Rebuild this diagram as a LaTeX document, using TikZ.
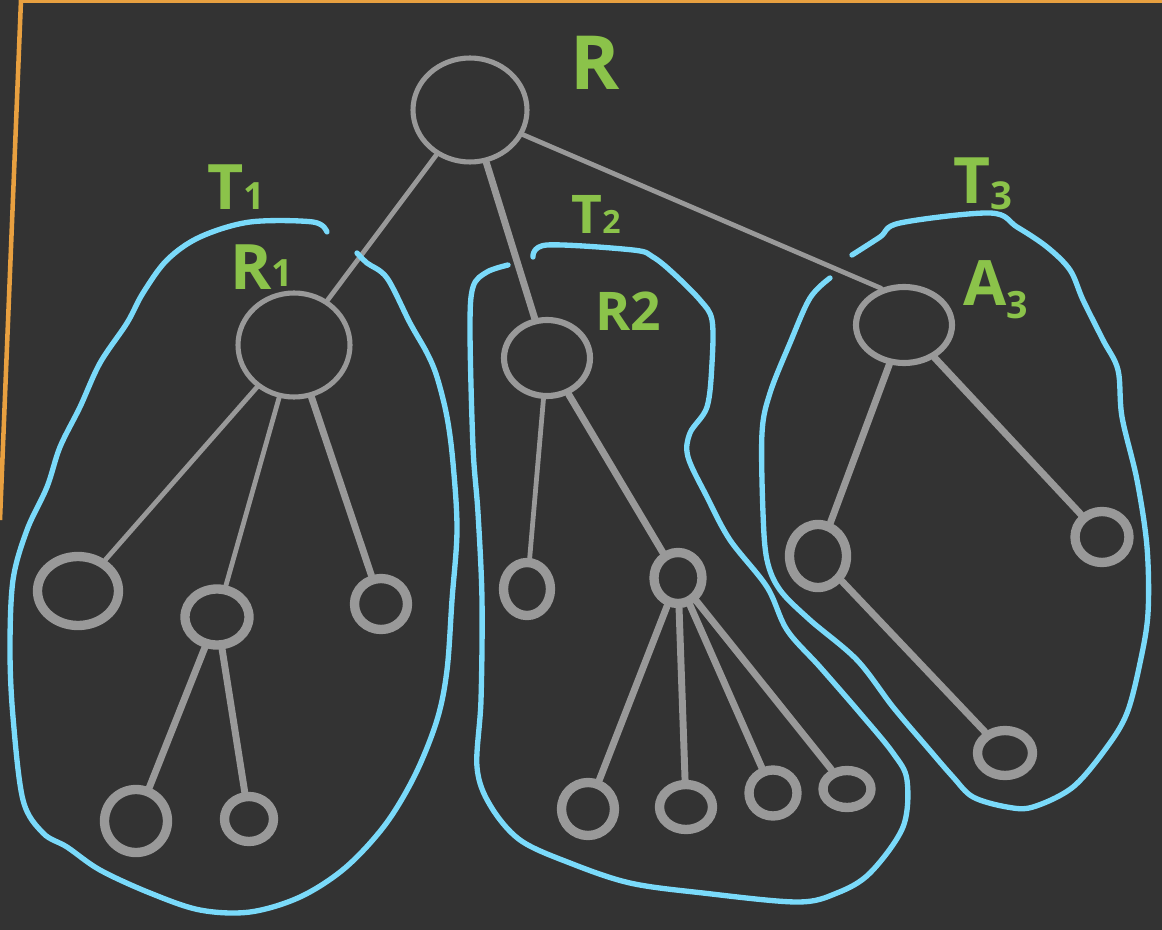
\documentclass[tikz,border=0pt]{standalone}
\usepackage{fontspec}
\setmainfont{Open Sans}
\usepackage{graphicx}
\usetikzlibrary{shapes.geometric}

\definecolor{board}{RGB}{51,51,51}
\definecolor{chalkgrey}{RGB}{153,153,153}
\definecolor{chalkblue}{RGB}{122,218,250}
\definecolor{chalkgreen}{RGB}{139,195,74}
\definecolor{frameorange}{RGB}{232,160,64}

\newcommand{\idx}[2][0pt]{\raisebox{#1}{\scalebox{0.6}{#2}}}

\tikzset{
  sz/.style 2 args={minimum width=#1*0.75pt, minimum height=#2*0.75pt},
  bignode/.style={ellipse, draw=chalkgrey, line width=3.8pt, inner sep=0pt},
  leaf/.style={ellipse, draw=chalkgrey, line width=7pt, inner sep=0pt},
  twig/.style={draw=chalkgrey, line width=3.6pt, line cap=round},
  stem/.style={draw=chalkgrey, line width=5.2pt, line cap=round},
  hull/.style={draw=chalkblue, line width=4pt, line cap=round, line join=round},
  tag/.style={text=chalkgreen, inner sep=0pt}
}

\begin{document}
\begin{tikzpicture}[x=0.75pt,y=0.75pt,yscale=-1,xscale=1]
\useasboundingbox (0,0) rectangle (1162,930);
\fill[board] (0,0) rectangle (1162,930);
%frame
\draw[frameorange, line width=2.6pt] (20,1) -- (1162,1);
\draw[frameorange, line width=3.4pt] (21,0) -- (0,520);

%Shape: Ellipse (root)
\node[bignode, sz={114}{104}] (r) at (470,110) {};
%Shape: Ellipse (subtree roots)
\node[bignode, sz={112}{104}] (r1) at (294,345) {};
\node[bignode, line width=4.6pt, sz={86}{76}] (r2) at (547,358) {};
\node[bignode, line width=4.6pt, sz={96}{76}] (a3) at (904,325) {};
%Shape: Ellipse (T1)
\node[leaf, sz={81}{69}] (l1) at (78,591) {};
\node[leaf, sz={64}{56}] (l2) at (217,617) {};
\node[leaf, sz={53}{51}] (l3) at (381,604) {};
\node[leaf, sz={63}{63}] (l4) at (136,821) {};
\node[leaf, sz={49}{45}] (l5) at (249,819) {};
%Shape: Ellipse (T2)
\node[leaf, sz={47}{53}] (m1) at (527,589) {};
\node[leaf, sz={48}{51}] (m2) at (678,578) {};
\node[leaf, sz={53}{53}] (m3) at (588,809) {};
\node[leaf, sz={53}{45}] (m4) at (686,807) {};
\node[leaf, sz={48}{46}] (m5) at (773,793) {};
\node[leaf, sz={48}{37}] (m6) at (847,789) {};
%Shape: Ellipse (T3)
\node[leaf, sz={57}{63}] (n1) at (818,556) {};
\node[leaf, sz={54}{51}] (n2) at (1102,537) {};
\node[leaf, sz={55}{45}] (n3) at (1005,753) {};

%Straight Lines
\draw[twig] (r) -- (r1);
\draw[stem] (r) -- (r2);
\draw[twig] (r.-25) -- (a3.122);
\draw[twig] (r1) -- (l1);
\draw[twig] (r1) -- (l2);
\draw[stem] (r1) -- (l3);
\draw[stem] (l2) -- (l4);
\draw[stem] (l2) -- (l5);
\draw[twig] (r2) -- (m1);
\draw[stem] (r2) -- (m2);
\draw[stem] (m2) -- (m3);
\draw[stem] (m2) -- (m4);
\draw[stem] (m2) -- (m5);
\draw[stem] (m2) -- (m6);
\draw[stem] (a3) -- (n1);
\draw[stem] (a3) -- (n2);
\draw[stem] (n1) -- (n3);

%Shape: Free Drawing (T1)
\draw[hull] plot[smooth, tension=0.55] coordinates {(327,232) (313,222) (250,222) (200,237) (167,260) (143,293) (127,323) (100,363) (80,407) (60,447) (47,487) (27,530) (13,580) (10,650) (13,717) (23,800) (43,833) (67,847) (100,870) (150,893) (200,910) (250,912) (300,897) (345,868) (385,825) (415,775) (437,720) (447,670) (452,600) (457,530) (453,463) (447,417) (437,377) (427,353) (410,323) (387,278) (367,263) (357,253)};
%Shape: Free Drawing (T2)
\draw[hull] plot[smooth, tension=0.55] coordinates {(533,257) (547,245) (633,250) (653,257) (673,273) (700,300) (712,320) (712,363) (707,407) (690,433) (688,457) (707,497) (730,540) (767,587) (787,630) (820,667) (860,713) (893,753) (907,780) (903,827) (870,873) (837,893) (797,902) (703,893) (630,883) (570,863) (520,840) (490,805) (477,767) (481,700) (482,600) (478,513) (473,447) (470,330) (473,287) (487,272) (508,265)};
%Shape: Free Drawing (T3)
\draw[hull] plot[smooth, tension=0.55] coordinates {(852,255) (880,237) (900,223) (990,213) (1017,227) (1047,247) (1070,270) (1083,300) (1103,340) (1118,370) (1122,417) (1137,480) (1147,547) (1148,613) (1140,663) (1127,713) (1107,747) (1073,787) (1033,807) (1007,807) (973,797) (953,777) (927,747) (893,707) (857,660) (810,620) (780,590) (767,560) (763,513) (762,433) (770,393) (790,343) (810,298) (830,278)};

% Text Node
\node[tag, font=\bfseries\fontsize{56}{58}\selectfont] (labr) at (595,63) {R};
% Text Node
\node[tag, font=\bfseries\fontsize{47}{50}\selectfont] (labt1) at (236,187) {T\idx{1}};
% Text Node
\node[tag, font=\bfseries\fontsize{47}{50}\selectfont] (labr1) at (262,267) {R\idx[2pt]{1}};
% Text Node
\node[tag, font=\bfseries\fontsize{40}{44}\selectfont] (labt2) at (596,214) {T\idx{2}};
% Text Node
\node[tag, font=\bfseries\fontsize{40}{44}\selectfont] (labr2) at (628,311) {R2};
% Text Node
\node[tag, font=\bfseries\fontsize{48}{52}\selectfont] (labt3) at (983,184) {T\idx[-4pt]{3}};
% Text Node
\node[tag, font=\bfseries\fontsize{47}{50}\selectfont] (laba3) at (996,290) {A\idx[-10pt]{3}};

\end{tikzpicture}
\end{document}
